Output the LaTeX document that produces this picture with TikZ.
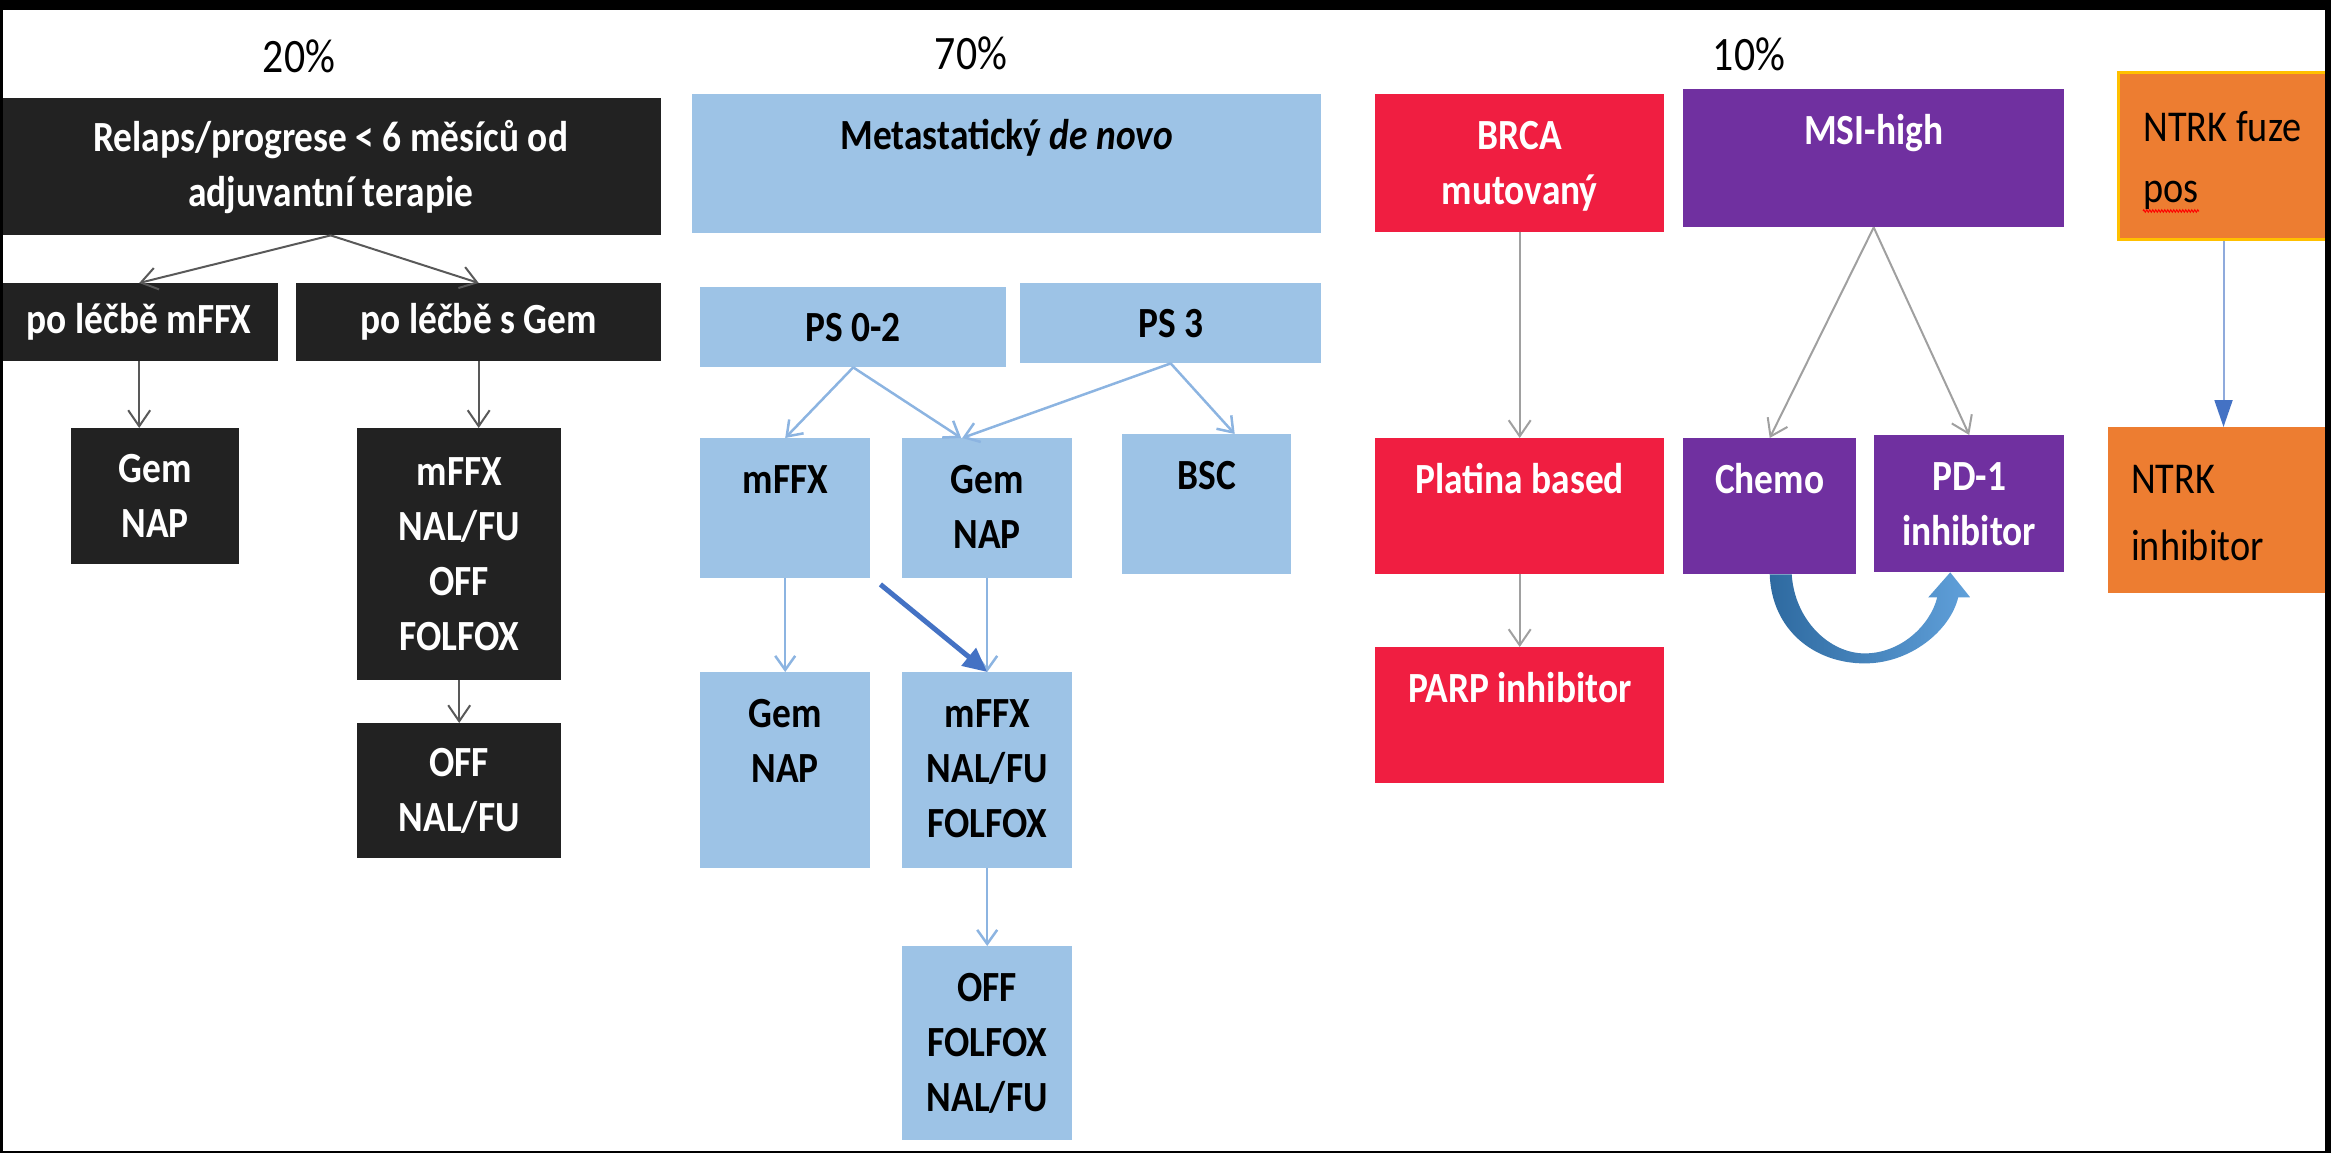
\documentclass[tikz,border=0pt]{standalone}
\usepackage{fontspec}
\setmainfont{Carlito}[FakeStretch=0.87]
\usetikzlibrary{arrows.meta, calc, decorations.pathmorphing}

\definecolor{boxblack}{RGB}{34,34,34}
\definecolor{boxblue}{RGB}{157,195,230}
\definecolor{boxred}{RGB}{240,30,65}
\definecolor{boxpurple}{RGB}{112,48,160}
\definecolor{boxorange}{RGB}{237,125,49}
\definecolor{boxyellow}{RGB}{255,192,0}
\definecolor{linkblue}{RGB}{68,114,196}
\definecolor{linklight}{RGB}{140,180,225}
\definecolor{linkpale}{RGB}{143,170,220}
\definecolor{linkdark}{RGB}{89,89,89}
\definecolor{linkgrey}{RGB}{160,160,160}

% text sitting at the top of a fixed box
\newcommand{\toptext}[3]{\parbox[t][#2][t]{#1}{\centering\rule{0pt}{55pt}#3}}

\begin{document}
\begin{tikzpicture}[
        x=1pt, y=-1pt,
        boxtext/.style={inner sep=0pt, anchor=north west, align=center, font=\bfseries\fontsize{43}{55}\selectfont},
        blackbox/.style={boxtext, fill=boxblack, text=white},
        bluebox/.style={boxtext, fill=boxblue, text=black},
        redbox/.style={boxtext, fill=boxred, text=white},
        purplebox/.style={boxtext, fill=boxpurple, text=white},
        orangebox/.style={inner sep=0pt, anchor=north west, fill=boxorange, text=black, font=\fontsize{44}{61}\selectfont},
        pct/.style={inner sep=0pt, font=\fontsize{48}{55}\selectfont},
        darkarrow/.style={draw=linkdark, line width=2pt, -{Straight Barb[length=16pt, width=22pt]}},
        greyarrow/.style={draw=linkgrey, line width=2pt, -{Straight Barb[length=16pt, width=22pt]}},
        lightarrow/.style={draw=linklight, line width=2.5pt, -{Straight Barb[length=14pt, width=20pt]}},
        boldarrow/.style={draw=linkblue, line width=5pt, -{Triangle[length=24pt, width=22pt]}},
        ntrkarrow/.style={draw=linkpale, line width=2pt, -{Triangle[length=27pt, width=18pt, color=linkblue]}},
        loopshade/.style={left color={rgb,255:red,46;green,106;blue,160}, right color={rgb,255:red,96;green,160;blue,218}}
    ]
        \useasboundingbox (0,0) rectangle (2331,1153);

        % Percentages
        \node (p20) [pct] at (299,56) {20\%};
        \node (p70) [pct] at (971,53) {70\%};
        \node (p10) [pct] at (1749,54) {10\%};

        % Nodes: relapse
        \node (relaps) [blackbox, minimum width=661pt, minimum height=137pt] at (0,98) {Relaps/progrese < 6 měsíců od\\adjuvantní terapie};
        \node (pomffx) [blackbox, minimum width=278pt, minimum height=78pt] at (0,283) {po léčbě mFFX};
        \node (pogem) [blackbox, minimum width=365pt, minimum height=78pt] at (296,283) {po léčbě s Gem};
        \node (gemnap) [blackbox, minimum width=168pt, minimum height=136pt] at (71,428) {Gem\\NAP};
        \node (mffxlist) [blackbox, minimum width=204pt, minimum height=252pt] at (357,428) {mFFX\\NAL/FU\\OFF\\FOLFOX};
        \node (offnal) [blackbox, minimum width=204pt, minimum height=135pt] at (357,723) {OFF\\NAL/FU};

        % Nodes: metastatic
        \node (meta) [bluebox] at (692,94) {\toptext{629pt}{139pt}{Metastatický \textit{de novo}}};
        \node (ps02) [bluebox, minimum width=306pt, minimum height=80pt] at (700,287) {PS 0-2};
        \node (ps3) [bluebox, minimum width=301pt, minimum height=80pt] at (1020,283) {PS 3};
        \node (mffx) [bluebox] at (700,438) {\toptext{170pt}{140pt}{mFFX}};
        \node (gem) [bluebox] at (902,438) {\toptext{170pt}{140pt}{Gem\\NAP}};
        \node (bsc) [bluebox] at (1122,434) {\toptext{169pt}{140pt}{BSC}};
        \node (gem2) [bluebox] at (700,672) {\toptext{170pt}{196pt}{Gem\\NAP}};
        \node (mffx2) [bluebox] at (902,672) {\toptext{170pt}{196pt}{mFFX\\NAL/FU\\FOLFOX}};
        \node (off2) [bluebox] at (902,946) {\toptext{170pt}{194pt}{OFF\\FOLFOX\\NAL/FU}};

        % Nodes: markers
        \node (brca) [redbox] at (1375,94) {\toptext{289pt}{138pt}{BRCA\\mutovaný}};
        \node (platina) [redbox] at (1375,438) {\toptext{289pt}{136pt}{Platina based}};
        \node (parp) [redbox] at (1375,647) {\toptext{289pt}{136pt}{PARP inhibitor}};
        \node (msi) [purplebox] at (1683,89) {\toptext{381pt}{138pt}{MSI-high}};
        \node (chemo) [purplebox] at (1683,438) {\toptext{173pt}{136pt}{Chemo}};
        \node (pd1) [purplebox] at (1874,435) {\toptext{190pt}{137pt}{PD-1\\inhibitor}};
        \node (ntrkfuze) [orangebox, draw=boxyellow, line width=3pt] at (2117,71) {\parbox[t][167pt][t]{210pt}{\raggedright\leftskip=25pt\rule{0pt}{69pt}NTRK fuze\\pos}};
        \node (ntrkinh) [orangebox] at (2108,427) {\parbox[t][166pt][t]{217pt}{\raggedright\leftskip=23pt\rule{0pt}{66pt}NTRK\\[6pt]inhibitor}};

        % spelling mark under pos
        \draw [red, line width=1pt, decorate, decoration={zigzag, amplitude=1.2pt, segment length=3pt}] ($(ntrkfuze.south west)+(26,-30)$) -- ($(ntrkfuze.south west)+(82,-30)$);

        % Arrows
        \draw [darkarrow] (relaps.south) -- (pomffx.north);
        \draw [darkarrow] (relaps.south) -- (pogem.north);
        \draw [darkarrow] (pomffx.south) -- (pomffx.south |- gemnap.north);
        \draw [darkarrow] (pogem.south) -- (pogem.south |- mffxlist.north);
        \draw [darkarrow] (mffxlist.south) -- (offnal.north);

        \draw [lightarrow] (ps02.south) -- (mffx.north);
        \draw [lightarrow] (ps02.south) -- ([xshift=-26pt]gem.north);
        \draw [lightarrow] (ps3.south) -- ([xshift=-25pt]gem.north);
        \draw [lightarrow] (ps3.south) -- ([xshift=28pt]bsc.north);
        \draw [lightarrow] (mffx.south) -- (gem2.north);
        \draw [lightarrow] (gem.south) -- (mffx2.north);
        \draw [lightarrow] (mffx2.south) -- (off2.north);
        \draw [boldarrow] ([xshift=10pt, yshift=-6pt]mffx.south east) -- (mffx2.north);

        \draw [greyarrow] (brca.south) -- (platina.north);
        \draw [greyarrow] (platina.south) -- (parp.north);
        \draw [greyarrow] (msi.south) -- (chemo.north);
        \draw [greyarrow] (msi.south) -- (pd1.north);
        \draw [ntrkarrow] (ntrkfuze.south) -- (ntrkfuze.south |- ntrkinh.north);

        % curved arrow chemo -> PD-1
        \coordinate (ca) at (chemo.south);
        \coordinate (pa) at (pd1.south);
        \shade [loopshade] (ca)
            .. controls ($(ca)+(2,56)$) and ($(ca)+(45,89)$) .. ($(ca)+(95,89)$)
            .. controls ($(ca)+(141,89)$) and ($(pa)+(-19,58)$) .. ($(pa)+(-11,25)$)
            -- ($(pa)+(1,25)$) -- ($(pa)+(-19,0)$) -- ($(pa)+(-41,25)$) -- ($(pa)+(-32,25)$)
            .. controls ($(pa)+(-39,53)$) and ($(ca)+(131,79)$) .. ($(ca)+(95,79)$)
            .. controls ($(ca)+(60,79)$) and ($(ca)+(25,46)$) .. ($(ca)+(22,0)$) -- cycle;

        % Frame
        \fill [black] (0,0) rectangle (2331,10);
        \fill [black] (0,0) rectangle (3,1153);
        \fill [black] (2325,0) rectangle (2331,1153);
        \fill [black] (0,1151) rectangle (2331,1153);
    \end{tikzpicture}
\end{document}
